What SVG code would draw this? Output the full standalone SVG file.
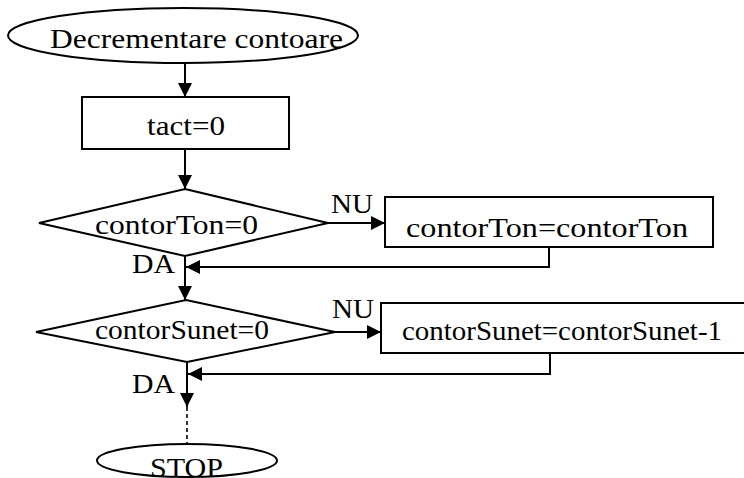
<svg xmlns="http://www.w3.org/2000/svg" width="744" height="478" viewBox="0 0 744 478">
<style>
.s{fill:#fff;stroke:#000;stroke-width:2}
.t{font-family:"Liberation Serif","Times New Roman",serif;font-size:27px;fill:#000}
.c{fill:none;stroke:#000;stroke-width:2}
.d{fill:none;stroke:#000;stroke-width:1.6;stroke-dasharray:4 3}
</style>
<defs>
<marker id="ah" viewBox="0 0 14 14" refX="14" refY="7" markerWidth="14" markerHeight="14" markerUnits="userSpaceOnUse" orient="auto">
<path d="M0,0 L14,7 L0,14 Z" fill="#000"/>
</marker>
</defs>
<g id="connectors">
<line class="c" x1="185" y1="63" x2="185" y2="97" marker-end="url(#ah)"/>
<line class="c" x1="185" y1="149" x2="185" y2="189" marker-end="url(#ah)"/>
<line class="c" x1="328" y1="223" x2="385" y2="223" marker-end="url(#ah)"/>
<polyline class="c" points="549,247 549,267 186,267" marker-end="url(#ah)"/>
<line class="c" x1="185" y1="256" x2="185" y2="300" marker-end="url(#ah)"/>
<line class="c" x1="335" y1="332" x2="381" y2="332" marker-end="url(#ah)"/>
<polyline class="c" points="550,353 550,374 188,374" marker-end="url(#ah)"/>
<line class="c" x1="187" y1="362" x2="187" y2="407" marker-end="url(#ah)"/>
<line class="d" x1="187" y1="407" x2="187" y2="444"/>
<text class="t" x="331" y="213" textLength="42" lengthAdjust="spacingAndGlyphs">NU</text>
<text class="t" x="132" y="273" textLength="43" lengthAdjust="spacingAndGlyphs">DA</text>
<text class="t" x="332" y="318" textLength="42" lengthAdjust="spacingAndGlyphs">NU</text>
<text class="t" x="132" y="393" textLength="43" lengthAdjust="spacingAndGlyphs">DA</text>
</g>
<g id="start">
<ellipse class="s" cx="183" cy="35.5" rx="175" ry="27.5"/>
<text class="t" x="50" y="48" textLength="293" lengthAdjust="spacingAndGlyphs">Decrementare contoare</text>
</g>
<g id="tact">
<rect class="s" x="82" y="97" width="207" height="52"/>
<text class="t" x="147" y="135" textLength="78" lengthAdjust="spacingAndGlyphs">tact=0</text>
</g>
<g id="decision1">
<polygon class="s" points="185,189 328,223 185,256 39,223"/>
<text class="t" x="95" y="234" textLength="163" lengthAdjust="spacingAndGlyphs">contorTon=0</text>
</g>
<g id="process1">
<rect class="s" x="385" y="197" width="328" height="50"/>
<text class="t" x="406" y="237" textLength="282" lengthAdjust="spacingAndGlyphs">contorTon=contorTon</text>
</g>
<g id="decision2">
<polygon class="s" points="186,300 335,332 187,362 36,332"/>
<text class="t" x="95" y="339" textLength="174" lengthAdjust="spacingAndGlyphs">contorSunet=0</text>
</g>
<g id="process2">
<rect class="s" x="381" y="303" width="380" height="50"/>
<text class="t" x="402" y="340" textLength="320" lengthAdjust="spacingAndGlyphs">contorSunet=contorSunet-1</text>
</g>
<g id="stop">
<ellipse class="s" cx="187" cy="460.5" rx="90" ry="16.5"/>
<text class="t" x="150" y="477" textLength="73" lengthAdjust="spacingAndGlyphs">STOP</text>
</g>
</svg>
